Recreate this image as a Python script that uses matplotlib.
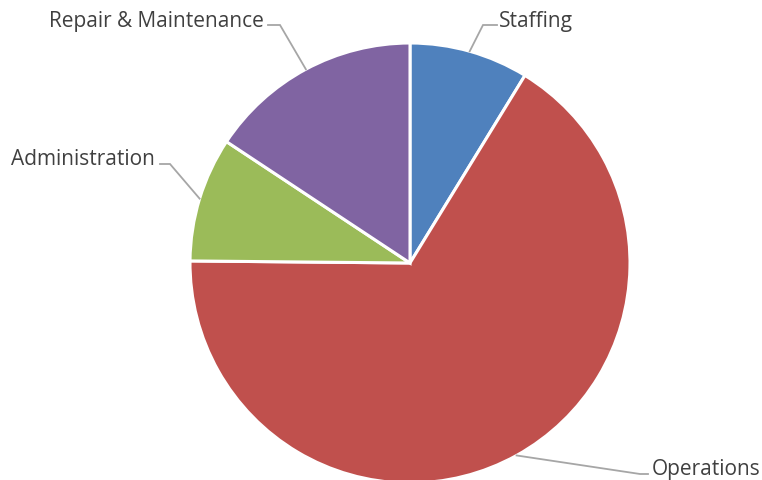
import numpy as np
import matplotlib
matplotlib.use('Agg')
import matplotlib.pyplot as plt

labels = ['Staffing', 'Operations', 'Administration', 'Repair & Maintenance']
values = [8.75, 66.4, 9.15, 15.7]
colors = ['#4F81BD', '#C0504D', '#9BBB59', '#8064A2']

W, H = 762, 481
cx, cy, R = 410, H - 264, 220

# label layout: (elbow x, elbow y, end x, text x, text y, ha) in pixels from top-left
layout = {
    'Staffing': (483, 26, 497, 499, 19, 'left'),
    'Operations': (640, 475, 648, 652, 467, 'left'),
    'Administration': (170, 165, 160, 155, 157, 'right'),
    'Repair & Maintenance': (280, 26, 268, 264, 19, 'right'),
}

fig = plt.figure(figsize=(W / 100, H / 100), dpi=100)
ax = fig.add_axes([0, 0, 1, 1])
wedges, _ = ax.pie(values, colors=colors, startangle=90, counterclock=False,
                   center=(cx, cy), radius=R,
                   wedgeprops=dict(edgecolor='white', linewidth=2.2))
ax.set_xlim(0, W)
ax.set_ylim(0, H)
ax.set_aspect('equal')
ax.axis('off')

for w, lab in zip(wedges, labels):
    mid = np.deg2rad((w.theta1 + w.theta2) / 2)
    x0 = cx + R * np.cos(mid)
    y0 = cy + R * np.sin(mid)
    ex, ey, endx, tx, ty, ha = layout[lab]
    ax.plot([x0, ex, endx], [y0, H - ey, H - ey], color='#A6A6A6', lw=1.3,
            solid_joinstyle='miter')
    ax.text(tx, H - ty, lab, ha=ha, va='center_baseline', fontsize=15,
            family='Open Sans', color='#404040')

plt.savefig('out.png', dpi=100)
